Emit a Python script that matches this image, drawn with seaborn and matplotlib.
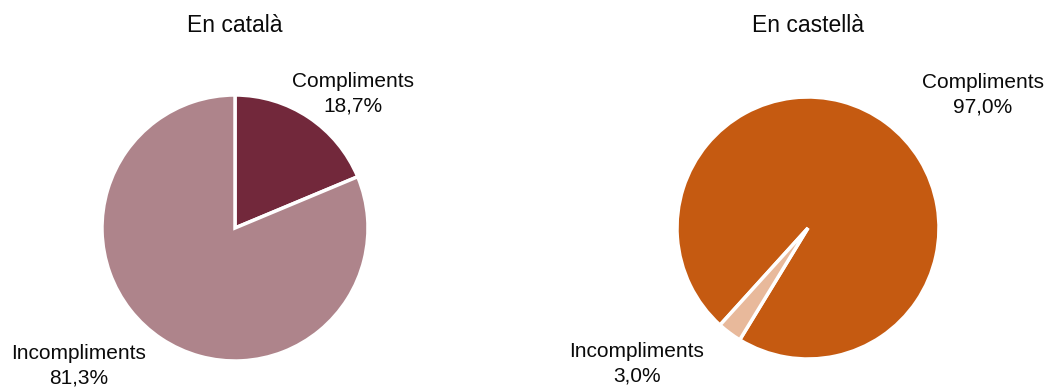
import matplotlib
matplotlib.use("Agg")
import matplotlib.pyplot as plt
import seaborn as sns

sns.set_theme(style="white")
plt.rcParams['font.family'] = ['Liberation Sans', 'DejaVu Sans']

categories = ["Compliments", "Incompliments"]
titles = ["En català", "En castellà"]
values_cat = [18.7, 81.3]
values_cas = [97.0, 3.0]
colors_cat = ["#72283B", "#AE848B"]
colors_cas = ["#C55A11", "#E8B99B"]

W, H = 1049, 387
fig = plt.figure(figsize=(W / 100, H / 100), dpi=100)

def fmt(v):
    return f"{v:.1f}".replace(".", ",") + "%"

def make_pie(cx, cy, r, vals, cols, title, start, label_pos):
    ax = fig.add_axes([(cx - r) / W, 1 - (cy + r) / H, 2 * r / W, 2 * r / H])
    ax.pie(vals, colors=cols, startangle=start, counterclock=False,
           wedgeprops=dict(edgecolor="white", linewidth=2.5))
    ax.set_xlim(-1, 1)
    ax.set_ylim(-1, 1)
    ax.set_aspect("equal")
    ax.axis("off")
    for cat, v, (lx, ly) in zip(categories, vals, label_pos):
        ax.text(lx, ly, f"{cat}\n{fmt(v)}", ha="center", va="center",
                fontsize=15, color="#0a0a0a", linespacing=1.35, clip_on=False)
    fig.text(cx / W, 1 - 25 / H, title, ha="center", va="center",
             fontsize=16.5, color="#0a0a0a")

make_pie(235, 228, 133, values_cat, colors_cat, titles[0], 90,
         [(0.887, 1.007), (-1.173, -1.038)])
make_pie(808, 228, 131, values_cas, colors_cas, titles[1], 90 - 222.2,
         [(1.336, 1.019), (-1.305, -1.038)])

fig.savefig("out.png", dpi=100, facecolor="white")
